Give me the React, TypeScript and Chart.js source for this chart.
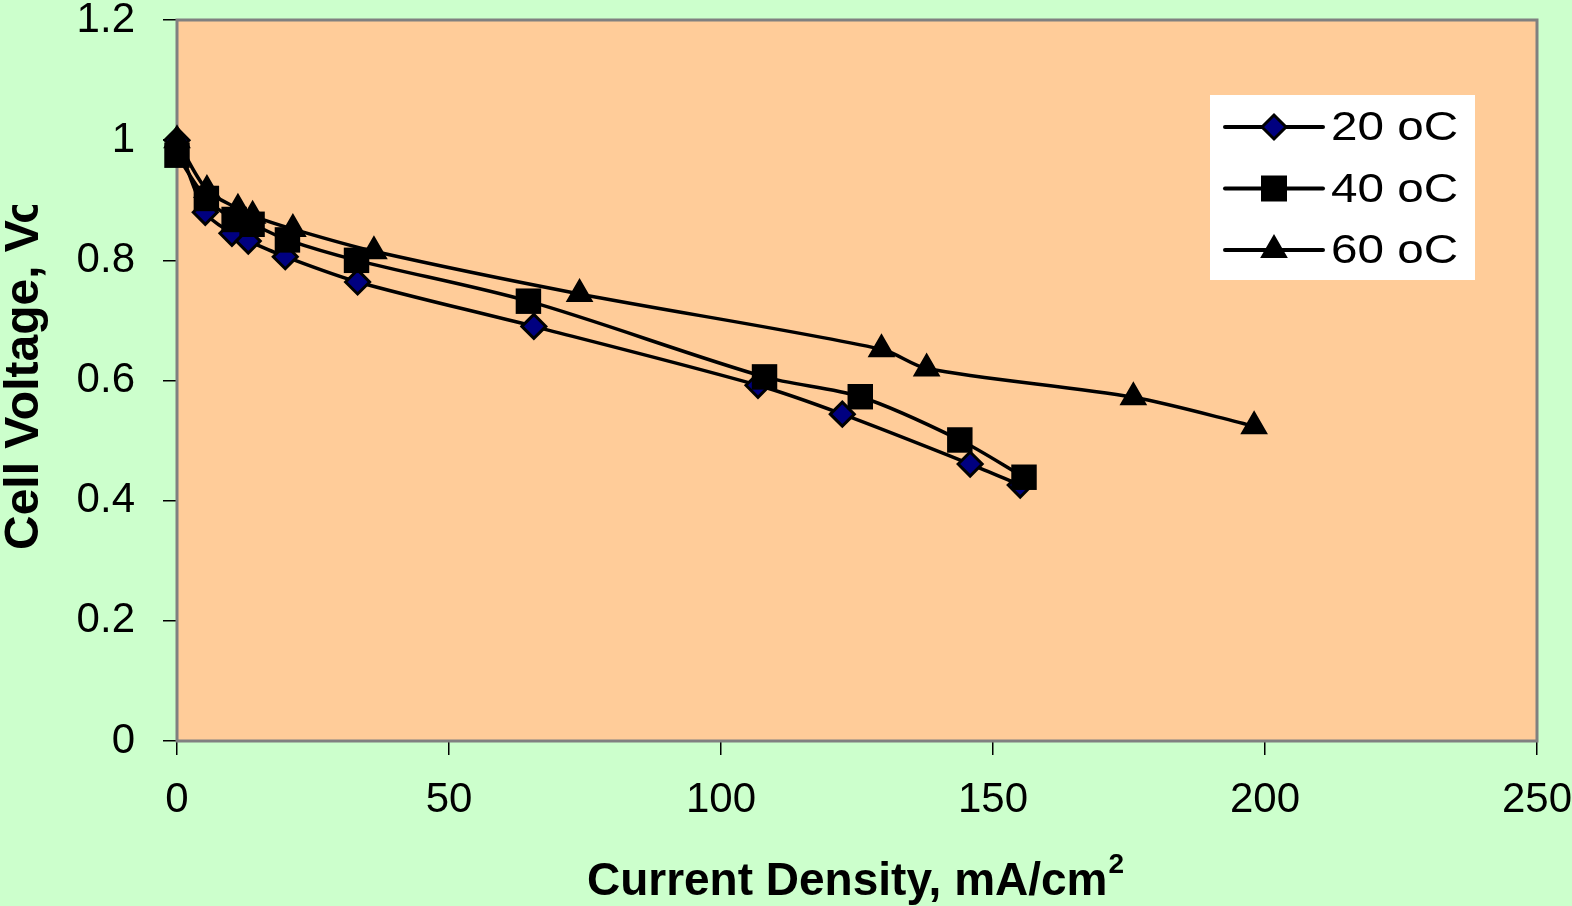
import React, { useEffect, useRef } from "react";
import { Chart, registerables } from "chart.js";

Chart.register(...registerables);

// ---- data ----
const series20X = [0, 5.2, 10.1, 13.1, 19.9, 33.2, 65.6, 106.8, 122.3, 145.8, 155.0];
const series20Y = [1.0, 0.88, 0.845, 0.832, 0.806, 0.764, 0.69, 0.592, 0.544, 0.461, 0.426];
const series40X = [0, 5.4, 10.5, 13.8, 20.3, 33.0, 64.6, 108.0, 125.6, 143.9, 155.7];
const series40Y = [0.975, 0.903, 0.868, 0.86, 0.834, 0.8, 0.732, 0.606, 0.573, 0.501, 0.439];
const series60X = [0, 5.5, 11.2, 13.9, 21.3, 36.2, 74.0, 129.5, 137.8, 175.8, 198.0];
const series60Y = [1.0, 0.917, 0.886, 0.874, 0.852, 0.815, 0.744, 0.652, 0.62, 0.572, 0.524];
const seriesNames = ["20 oC", "40 oC", "60 oC"];
const xTickValues = [0, 50, 100, 150, 200, 250];
const yTickValues = [0, 0.2, 0.4, 0.6, 0.8, 1, 1.2];
const xTitle = "Current Density, mA/cm";
const xTitleSup = "2";
const yTitle = "Cell Voltage, Vo";

const FONT = '"Liberation Sans", Arial, sans-serif';

const toPts = (xs: number[], ys: number[]) => xs.map((x, i) => ({ x, y: ys[i] }));

function drawMarker(ctx: CanvasRenderingContext2D, kind: string, x: number, y: number) {
  ctx.save();
  ctx.beginPath();
  if (kind === "diamond") {
    const r = 12;
    ctx.moveTo(x - r, y);
    ctx.lineTo(x, y - r);
    ctx.lineTo(x + r, y);
    ctx.lineTo(x, y + r);
    ctx.closePath();
    ctx.fillStyle = "#000080";
    ctx.fill();
    ctx.lineWidth = 3;
    ctx.strokeStyle = "#000";
    ctx.stroke();
  } else if (kind === "square") {
    const s = 13;
    ctx.rect(x - s, y - s, 2 * s, 2 * s);
    ctx.fillStyle = "#000";
    ctx.fill();
  } else {
    const r = 14;
    for (let k = 0; k < 3; k++) {
      const a = (k * 2 * Math.PI) / 3;
      const px = x + Math.sin(a) * r;
      const py = y - Math.cos(a) * r;
      if (k === 0) ctx.moveTo(px, py);
      else ctx.lineTo(px, py);
    }
    ctx.closePath();
    ctx.fillStyle = "#000";
    ctx.fill();
    ctx.lineWidth = 2;
    ctx.strokeStyle = "#000";
    ctx.stroke();
  }
  ctx.restore();
}

const decoPlugin = {
  id: "deco",
  beforeDraw(chart: any) {
    const { ctx, chartArea } = chart;
    const { left, top, right, bottom } = chartArea;
    ctx.save();
    ctx.fillStyle = "#CCFFCC";
    ctx.fillRect(0, 0, chart.width, chart.height);
    ctx.fillStyle = "#FFCC99";
    ctx.fillRect(left, top, right - left, bottom - top);
    ctx.restore();
  },
  beforeDatasetsDraw(chart: any) {
    const { ctx, chartArea } = chart;
    const { left, top, right, bottom } = chartArea;
    ctx.save();
    ctx.strokeStyle = "#808080";
    ctx.lineWidth = 3;
    ctx.strokeRect(left, top, right - left, bottom - top);
    ctx.restore();
  },
  afterDraw(chart: any) {
    const { ctx } = chart;
    // legend
    ctx.save();
    ctx.fillStyle = "#FFFFFF";
    ctx.fillRect(1210, 95, 265, 185);
    const kinds = ["diamond", "square", "triangle"];
    seriesNames.forEach((name, i) => {
      const y = 127 + i * 61.5;
      ctx.beginPath();
      ctx.moveTo(1225, y);
      ctx.lineTo(1323, y);
      ctx.lineWidth = 4;
      ctx.strokeStyle = "#000";
      ctx.lineCap = "round";
      ctx.stroke();
      drawMarker(ctx, kinds[i], 1274, y);
      ctx.save();
      ctx.translate(1331, y);
      ctx.scale(1.19, 1);
      ctx.font = `40px ${FONT}`;
      ctx.fillStyle = "#000";
      ctx.textBaseline = "middle";
      ctx.textAlign = "left";
      ctx.fillText(name, 0, 2);
      ctx.restore();
    });
    ctx.restore();

    // x title
    ctx.save();
    ctx.fillStyle = "#000";
    ctx.font = `bold 46px ${FONT}`;
    const w1 = ctx.measureText(xTitle).width;
    ctx.font = `bold 28px ${FONT}`;
    const w2 = ctx.measureText(xTitleSup).width;
    const start = 855 - (w1 + w2) / 2;
    ctx.textBaseline = "alphabetic";
    ctx.textAlign = "left";
    ctx.font = `bold 46px ${FONT}`;
    ctx.fillText(xTitle, start, 895);
    ctx.font = `bold 28px ${FONT}`;
    ctx.fillText(xTitleSup, start + w1 + 1, 873);
    ctx.restore();

    // y title (clipped like the original)
    ctx.save();
    ctx.beginPath();
    ctx.rect(0, 205, 80, 700);
    ctx.clip();
    ctx.translate(38, 550);
    ctx.rotate(-Math.PI / 2);
    ctx.font = `bold 48px ${FONT}`;
    ctx.fillStyle = "#000";
    ctx.textAlign = "left";
    ctx.textBaseline = "alphabetic";
    ctx.fillText(yTitle, 0, 0);
    ctx.restore();
  },
};

export default function App() {
  const canvasRef = useRef<HTMLCanvasElement | null>(null);

  useEffect(() => {
    document.body.style.margin = "0";
    const canvas = canvasRef.current;
    if (!canvas) return;
    const common = {
      borderColor: "#000",
      borderWidth: 3.5,
      tension: 0.3,
      fill: false,
      clip: false as any,
      pointBorderColor: "#000",
    };
    const chart = new Chart(canvas, {
      type: "line",
      data: {
        datasets: [
          {
            ...common,
            label: seriesNames[0],
            data: toPts(series20X, series20Y),
            pointStyle: "rectRot",
            pointRadius: 12,
            pointBackgroundColor: "#000080",
            pointBorderWidth: 3,
            order: 2,
          },
          {
            ...common,
            label: seriesNames[1],
            data: toPts(series40X, series40Y),
            pointStyle: "rect",
            pointRadius: 18,
            pointBackgroundColor: "#000",
            pointBorderWidth: 0,
            order: 1,
          },
          {
            ...common,
            label: seriesNames[2],
            data: toPts(series60X, series60Y),
            pointStyle: "triangle",
            pointRadius: 14,
            pointBackgroundColor: "#000",
            pointBorderWidth: 2,
            order: 0,
          },
        ] as any,
      },
      options: {
        animation: false,
        responsive: false,
        devicePixelRatio: 1,
        layout: { padding: { top: 20, right: 35, left: 0, bottom: 0 } },
        plugins: { legend: { display: false }, tooltip: { enabled: false } },
        scales: {
          x: {
            type: "linear",
            min: 0,
            max: 250,
            afterBuildTicks: (scale: any) => {
              scale.ticks = xTickValues.map((v) => ({ value: v }));
            },
            afterFit: (scale: any) => {
              scale.height = 165;
              scale.paddingLeft = 0;
              scale.paddingRight = 0;
              scale.paddingTop = 0;
              scale.paddingBottom = 0;
            },
            grid: {
              display: true,
              drawOnChartArea: false,
              drawTicks: true,
              tickLength: 14,
              tickColor: "#000",
              lineWidth: 1.5,
            },
            border: { display: true, color: "#000", width: 2 },
            ticks: {
              color: "#000",
              font: { family: FONT, size: 42 },
              padding: 20,
              maxRotation: 0,
              autoSkip: false,
              callback: (v: any) => String(v),
            },
          },
          y: {
            type: "linear",
            min: 0,
            max: 1.2,
            afterBuildTicks: (scale: any) => {
              scale.ticks = yTickValues.map((v) => ({ value: v }));
            },
            afterFit: (scale: any) => {
              scale.width = 177;
              scale.paddingLeft = 0;
              scale.paddingRight = 0;
              scale.paddingTop = 0;
              scale.paddingBottom = 0;
            },
            grid: {
              display: true,
              drawOnChartArea: false,
              drawTicks: true,
              tickLength: 14,
              tickColor: "#000",
              lineWidth: 1.5,
            },
            border: { display: true, color: "#000", width: 2 },
            ticks: {
              color: "#000",
              font: { family: FONT, size: 42 },
              padding: 28,
              autoSkip: false,
              callback: (v: any) => String(Number(Number(v).toFixed(1))),
            },
          },
        },
      },
      plugins: [decoPlugin],
    } as any);
    return () => chart.destroy();
  }, []);

  return (
    <div style={{ position: "fixed", left: 0, top: 0, width: 1572, height: 906, background: "#CCFFCC" }}>
      <canvas ref={canvasRef} width={1572} height={906} style={{ display: "block" }} />
    </div>
  );
}
